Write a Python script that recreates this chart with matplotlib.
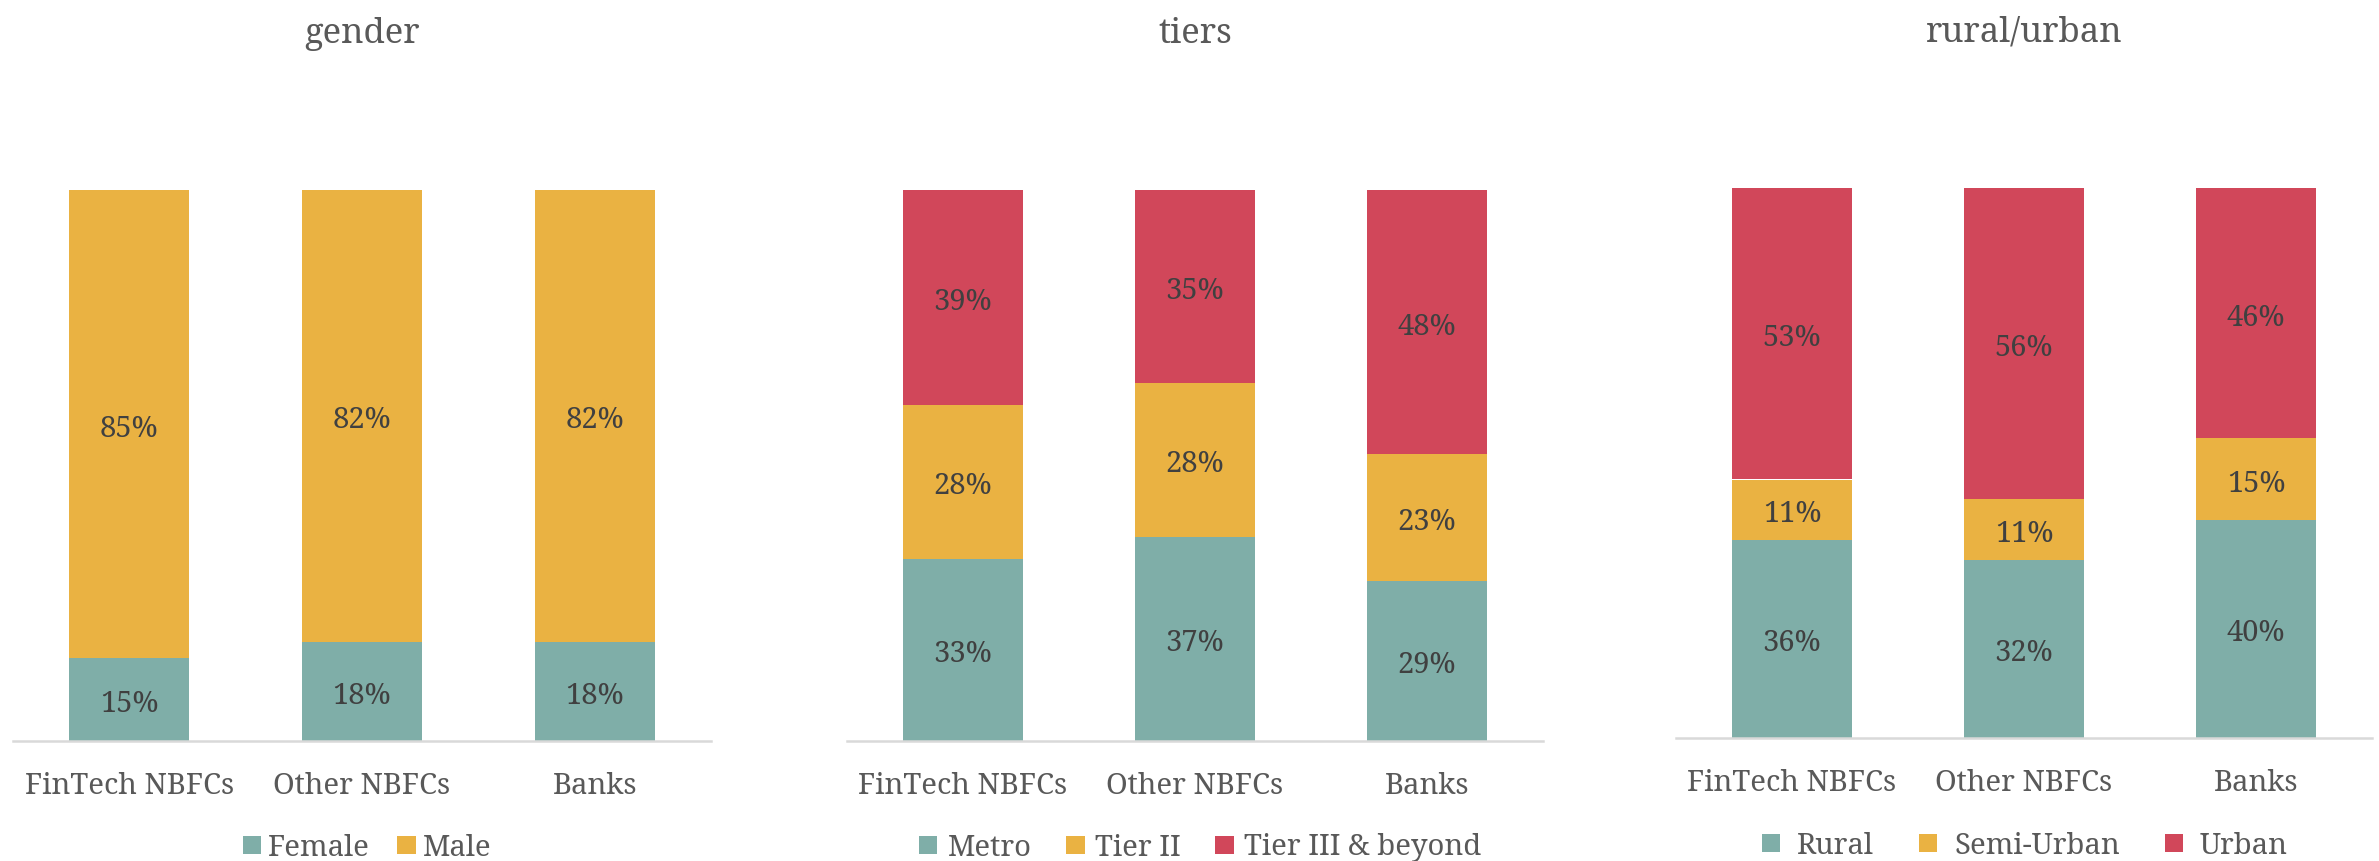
import matplotlib
matplotlib.use("Agg")
import matplotlib.pyplot as plt
import numpy as np
from matplotlib.patches import Patch

W, H = 2379, 861

categories = ["FinTech NBFCs", "Other NBFCs", "Banks"]

gender_title = "gender"
gender_series = ["Female", "Male"]
gender_female = [15, 18, 18]
gender_male = [85, 82, 82]

tiers_title = "tiers"
tiers_series = ["Metro", "Tier II", "Tier III & beyond"]
tiers_metro = [33, 37, 29]
tiers_tier2 = [28, 28, 23]
tiers_tier3 = [39, 35, 48]

ru_title = "rural/urban"
ru_series = ["Rural", "Semi-Urban", "Urban"]
ru_rural = [36, 32, 40]
ru_semi = [11, 11, 15]
ru_urban = [53, 56, 46]

TEAL = "#7FAEA8"
GOLD = "#EAB242"
RED = "#D1475A"
LABEL_C = "#404040"
TEXT_C = "#595959"
AXIS_C = "#D9D9D9"

FONT = ["Noto Serif", "DejaVu Serif"]

fig = plt.figure(figsize=(W / 100, H / 100), dpi=100)


def panel(rect, series_vals, series_names, colors, title, title_base,
          legend_cx, legend_cy, colspacing, textpad, width=0.515):
    ax = fig.add_axes(rect)
    vals = np.array(series_vals, dtype=float)
    totals = vals.sum(axis=0)
    x = np.arange(len(categories))
    bottom = np.zeros(len(categories))
    for v, name, c in zip(vals, series_names, colors):
        frac = v / totals
        bars = ax.bar(x, frac, width, bottom=bottom, color=c, label=name,
                      edgecolor="none")
        anns = ax.bar_label(bars, labels=[f"{int(round(t))}%" for t in v],
                            label_type="center", color=LABEL_C, fontsize=21,
                            family=FONT)
        for a in anns:
            a.xyann = (0, -3.5)
        bottom += frac
    ax.set_xlim(-0.5, len(categories) - 0.5)
    ax.set_ylim(0, 1)
    ax.set_xticks(x)
    ax.set_xticklabels(categories, family=FONT, fontsize=21, color=TEXT_C)
    ax.tick_params(axis="x", length=0, pad=22)
    ax.set_yticks([])
    for s in ["top", "left", "right"]:
        ax.spines[s].set_visible(False)
    ax.spines["bottom"].set_color(AXIS_C)
    ax.spines["bottom"].set_linewidth(1.8)
    # title centred over the middle category
    tx = ax.transData.transform((1, 0))[0] / fig.bbox.width
    fig.text(tx, 1 - title_base / H, title, ha="center", va="baseline",
             family=FONT, fontsize=25, color=TEXT_C)
    handles = [Patch(facecolor=c, edgecolor="none") for c in colors]
    fig.legend(handles, series_names, loc="center",
               bbox_to_anchor=(legend_cx / W, 1 - legend_cy / H),
               ncol=len(series_names), frameon=False,
               prop={"family": FONT, "size": 21},
               labelcolor=TEXT_C, handlelength=0.62, handleheight=0.6,
               handletextpad=textpad, columnspacing=colspacing,
               borderaxespad=0, borderpad=0)
    return ax


panel([13 / W, 1 - 741 / H, 698 / W, 551 / H],
      [gender_female, gender_male], gender_series, [TEAL, GOLD],
      gender_title, 43, 367, 848, 0.95, 0.25)

panel([847 / W, 1 - 741 / H, 696 / W, 551 / H],
      [tiers_metro, tiers_tier2, tiers_tier3], tiers_series, [TEAL, GOLD, RED],
      tiers_title, 43, 1200, 848, 1.2, 0.35)

panel([1676 / W, 1 - 738 / H, 696 / W, 550 / H],
      [ru_rural, ru_semi, ru_urban], ru_series, [TEAL, GOLD, RED],
      ru_title, 41, 2025, 846, 1.55, 0.58)

fig.savefig("out.png", dpi=100, facecolor="white")
